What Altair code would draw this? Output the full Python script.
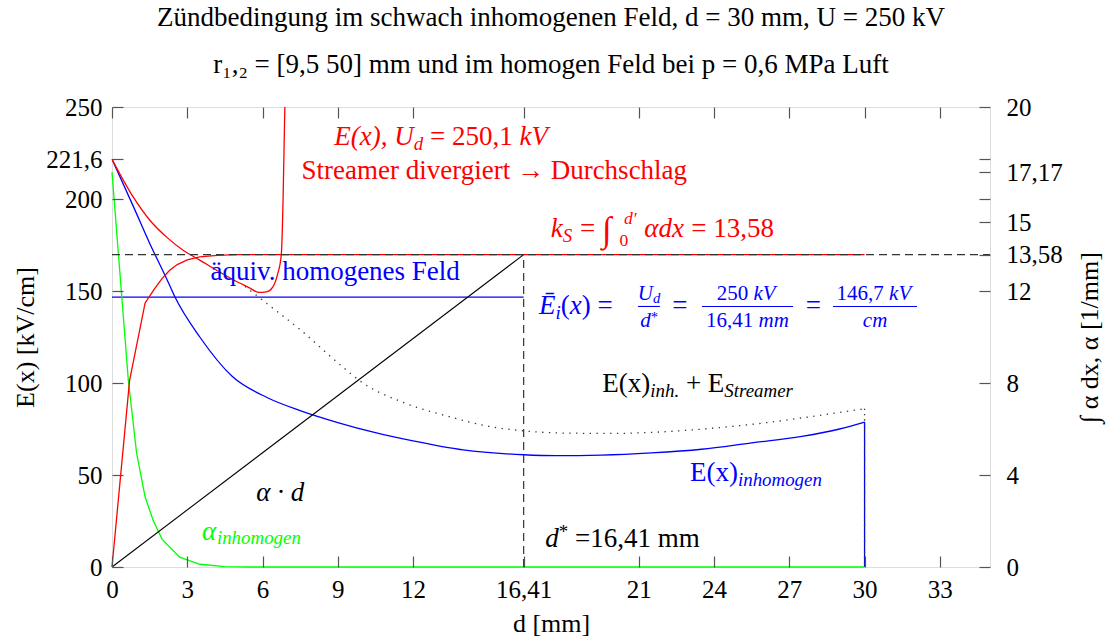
import altair as alt
import pandas as pd

# plot area and axis ranges
W, H = 878, 460
X_MAX, E_MAX, A_MAX = 35, 250, 20
PX_KV = H / E_MAX  # pixels per kV/cm on the left scale

FONT = "Liberation Serif"
RED, BLUE, GREEN, INK = "#ff0000", "#0000ff", "#00ff00", "#000000"

x_ticks = [0, 3, 6, 9, 12, 16.41, 21, 24, 27, 30, 33]
e_ticks = [0, 50, 100, 150, 200, 221.6, 250]
a_ticks = [0, 4, 8, 12, 13.58, 15, 17.17, 20]

# field strength along the gap, inhomogeneous arrangement [kV/cm]
e_inh_x = [0, 0.85, 1.5, 2.2, 2.5, 3.5, 4.8, 6.2, 7.5, 9, 10.5, 12, 14, 16.41, 17.7,
           19.5, 21.5, 23.5, 25.5, 27.5, 29, 30]
e_inh_y = [221.6, 196, 176, 156, 147, 125, 103.5, 92, 85, 78.5, 73, 68.5, 63.6, 61, 60.5,
           60.8, 62, 64, 67.5, 71, 75, 78.8]

# field including streamer space charge at U_d = 250,1 kV (diverges)
e_str_x = [0, 0.85, 1.5, 2.2, 2.85, 3.5, 4.2, 4.85, 5.5, 5.85, 6.15, 6.4, 6.6, 6.75,
           6.82, 6.87, 6.92]
e_str_y = [221.6, 201, 188.6, 179, 172, 166.8, 161, 156, 151.6, 149.2, 149.5, 152, 159,
           170, 200, 236, 270]

# E(x)inh + E_Streamer beyond the divergence point
e_sum_x = [5.3, 6, 7.5, 9, 10, 11.5, 13.5, 15, 16.41, 18, 20, 22, 24, 26, 28, 30]
e_sum_y = [152.5, 145, 129, 111, 100, 90, 81.5, 76.5, 74, 72.8, 72.6, 73.5, 75.5, 78.3,
           82, 86]

# ionisation coefficient alpha [1/mm]
alpha_x = [0, 0.65, 0.98, 1.32, 1.65, 2.0, 2.7, 3.5, 4.5, 5.5, 30]
alpha_y = [17.17, 8.13, 4.96, 3.04, 2.0, 1.2, 0.43, 0.12, 0.02, 0, 0]

# integral of alpha dx
k_x = [0, 0.7, 1.32, 1.7, 2.0, 2.3, 2.6, 3.0, 3.5, 4.2, 5.0, 30]
k_y = [0, 8.1, 11.48, 12.1, 12.55, 12.9, 13.15, 13.35, 13.48, 13.55, 13.58, 13.58]

gap = 30
d_star = 16.41
k_s = 13.58
e_hom = 146.7


def path(xs, ys):
    return pd.DataFrame({"x": xs, "y": ys, "i": range(len(xs))})


COMMA = "replace(toString(datum.value), '.', ',')"
common = dict(tickSize=11, tickColor="#555555", tickWidth=1.2, domain=False, offset=-11,
              labelFont=FONT, labelFontSize=25, labelColor="black",
              labelOverlap=False, grid=False, titleFont=FONT, titleFontSize=26,
              titleFontWeight="normal", titleColor="black", zindex=1)

ax_bottom = alt.Axis(orient="bottom", values=x_ticks, labelExpr=COMMA, labelFlush=False,
                     labelPadding=10, title="d [mm]", titlePadding=8, **common)
ax_top = alt.Axis(orient="top", values=x_ticks, labels=False, title=None, **common)
ax_left = alt.Axis(orient="left", values=e_ticks, labelExpr=COMMA, labelPadding=10,
                   title="E(x) [kV/cm]", titlePadding=7, **common)
# right axis also carries the mirrored left-hand ticks (200 and 221,6) without labels
right_vals = a_ticks + [200 / 12.5, 221.6 / 12.5]
ax_right = alt.Axis(orient="right", values=right_vals, labelPadding=16,
                    labelExpr="abs(datum.value - 16) < 0.01 || abs(datum.value - 17.728) < 0.01"
                              " ? '' : " + COMMA,
                    title="∫ α dx, α [1/mm]", titleAngle=270, titleBaseline="top",
                    titlePadding=14, **common)

x_scale = alt.Scale(domain=[0, X_MAX], nice=False, zero=False)
e_scale = alt.Scale(domain=[0, E_MAX], nice=False, zero=False)
a_scale = alt.Scale(domain=[0, A_MAX], nice=False, zero=False)

XL = alt.X("x:Q", scale=x_scale, axis=ax_bottom)
YL = alt.Y("y:Q", scale=e_scale, axis=ax_left)
XR = alt.X("x:Q", scale=x_scale, axis=ax_top)
YR = alt.Y("y:Q", scale=a_scale, axis=ax_right)


def line(df, xe, ye, color, width=1.3, dash=None, clip=False, smooth=False):
    kw = dict(color=color, strokeWidth=width, clip=clip)
    if dash:
        kw["strokeDash"] = dash
    if smooth:
        kw["interpolate"] = "monotone"
    return alt.Chart(df).mark_line(**kw).encode(x=xe, y=ye, order="i:Q")


# ---- text annotations (segments for sub/superscripts) ----
REG_LC = [444, 500, 444, 500, 444, 333, 500, 500, 278, 278, 500, 278, 778, 500, 500, 500,
          500, 333, 389, 278, 500, 500, 722, 500, 500, 444]
IT_LC = [500, 500, 444, 500, 444, 278, 500, 500, 278, 278, 444, 278, 722, 500, 500, 500,
         500, 389, 389, 278, 500, 444, 667, 444, 444, 389]
UC = [722, 667, 667, 722, 611, 556, 722, 722, 333, 389, 722, 611, 889, 722, 722, 556, 722,
      667, 556, 611, 722, 722, 944, 722, 722, 611]
OTHER = {" ": 250, "(": 333, ")": 333, ",": 250, ".": 250, "=": 564, "+": 564, "*": 500,
         "·": 250, "→": 1000, "∫": 500, "[": 333, "]": 333, "/": 278, "ä": 444, "ü": 500,
         "Ē": 611, "α": 550, "′": 275}


def text_w(s, italic, size):
    total = 0
    for ch in s:
        if "a" <= ch <= "z":
            total += (IT_LC if italic else REG_LC)[ord(ch) - 97]
        elif "A" <= ch <= "Z":
            total += UC[ord(ch) - 65]
        elif ch.isdigit():
            total += 500
        else:
            total += OTHER.get(ch, 500)
    return total / 1000 * size


annotations = [
    (13.18, 229.6, "center", RED, 27,
     [("E(x), U", 1), ("d", 1, .7, 5), (" = 250,1 ", 0), ("kV", 1)]),
    (15.25, 210.9, "center", RED, 27, [("Streamer divergiert → Durchschlag", 0)]),
    (21.94, 179.3, "center", RED, 27,
     [("k", 1), ("S", 1, .7, 5), (" = ", 0), ("∫", 0, 1.3, 4), ("0", 0, .65, 9, False),
      (" d′", 1, .65, -13), (" αdx", 1), (" = 13,58", 0)]),
    (8.93, 156.0, "center", BLUE, 27, [("äquiv. homogenes Feld", 0)]),
    (17.02, 137.5, "left", BLUE, 27,
     [("Ē", 1), ("i", 1, .7, 5), ("(", 0), ("x", 1), (") =", 0)]),
    (21.41, 145.0, "center", BLUE, 21, [("U", 1), ("d", 1, .7, 3)]),
    (21.41, 130.6, "center", BLUE, 21, [("d", 1), ("*", 0, .7, -5)]),
    (22.64, 137.5, "center", BLUE, 27, [("=", 0)]),
    (25.33, 145.0, "center", BLUE, 21, [("250 ", 0), ("kV", 1)]),
    (25.33, 130.6, "center", BLUE, 21, [("16,41 ", 0), ("mm", 1)]),
    (27.96, 137.5, "center", BLUE, 27, [("=", 0)]),
    (30.42, 145.0, "center", BLUE, 21, [("146,7 ", 0), ("kV", 1)]),
    (30.42, 130.6, "center", BLUE, 21, [("cm", 1)]),
    (23.38, 95.1, "center", INK, 27,
     [("E(x)", 0), ("inh.", 1, .7, 5), (" + E", 0), ("Streamer", 1, .7, 5)]),
    (25.67, 46.7, "center", BLUE, 27, [("E(x)", 0), ("inhomogen", 1, .7, 5)]),
    (6.72, 35.9, "center", INK, 27, [("α · d", 1)]),
    (5.56, 14.7, "center", GREEN, 27, [("α", 1), ("inhomogen", 1, .7, 4)]),
    (20.35, 10.9, "center", INK, 27, [("d", 1), ("*", 0, .7, -9), (" =16,41 mm", 0)]),
]

# fraction bars of the mean-field formula (x from, x to, height in kV/cm)
frac_x = [20.97, 23.52, 28.74]
frac_x2 = [21.84, 27.15, 32.09]
frac_y = [141.6, 141.6, 141.6]

PX_MM = W / X_MAX
rows = []
for cx, base, align, color, size, segs in annotations:
    segs = [tuple(s) + (1, 0, True)[len(s) - 2:] for s in segs]
    total = sum(text_w(t, it, size * sc) for t, it, sc, dy, adv in segs if adv)
    cursor = -total / 2 if align == "center" else 0
    for t, it, sc, dy, adv in segs:
        fs = size * sc
        # svg collapses leading/trailing blanks, so they are applied as offsets
        lead = text_w(t[:len(t) - len(t.lstrip())], it, fs)
        rows.append(dict(x=cx + (cursor + lead) / PX_MM, y=base - dy / PX_KV,
                         t=t.strip(), it=it, s=fs, c=color))
        if adv:
            cursor += text_w(t, it, fs)
seg_df = pd.DataFrame(rows)


def texts(italic):
    df = seg_df[seg_df.it == italic]
    return alt.Chart(df).mark_text(
        font=FONT, align="left", baseline="alphabetic",
        fontStyle="italic" if italic else "normal").encode(
        x=XL, y=YL, text="t:N", size=alt.Size("s:Q", scale=None),
        color=alt.Color("c:N", scale=None))


bars = alt.Chart(pd.DataFrame({"x": frac_x, "x2": frac_x2, "y": frac_y})).mark_rule(
    color=BLUE, strokeWidth=1.1).encode(x=XL, x2="x2:Q", y=YL)

left = alt.layer(
    line(path(e_inh_x, e_inh_y), XL, YL, BLUE, smooth=True),
    line(path([gap, gap], [e_inh_y[-1], 0]), XL, YL, BLUE),
    line(path(e_str_x, e_str_y), XL, YL, RED, clip=True, smooth=True),
    line(path(e_sum_x, e_sum_y), XL, YL, "#333333", width=1.3, dash=[1.3, 5.5], smooth=True),
    line(path([gap, gap], [e_sum_y[-1], 0]), XL, YL, "#333333", width=1.3, dash=[1.3, 4]),
    line(path([0, d_star], [e_hom, e_hom]), XL, YL, BLUE),
    texts(0), texts(1), bars,
)

right = alt.layer(
    line(path(alpha_x, alpha_y), XR, YR, GREEN),
    line(path(k_x, k_y), XR, YR, RED),
    line(path([0, d_star], [0, k_s]), XR, YR, INK, width=1.1),
    line(path([0, X_MAX], [k_s, k_s]), XR, YR, "#333333", width=1.2, dash=[8, 5]),
    line(path([d_star, d_star], [0, k_s]), XR, YR, "#333333", width=1.2, dash=[8, 5]),
)

chart = alt.layer(left, right).resolve_scale(y="independent").resolve_axis(
    x="independent").properties(
    width=W, height=H,
    padding={"left": 112, "top": 107, "right": 122, "bottom": 74},
    autosize=alt.AutoSizeParams(type="none"),
    title=alt.TitleParams(
        text=["Zündbedingung im schwach inhomogenen Feld, d = 30 mm, U = 250 kV",
              "r₁,₂ = [9,5 50] mm und im homogen Feld bei p = 0,6 MPa Luft"],
        font=FONT, fontSize=27, fontWeight="normal", color="black", lineHeight=47,
        anchor="middle", offset=16),
).configure_view(stroke="#333333", strokeWidth=1.2).configure(font=FONT)

chart.save("out.html", embed_options={"renderer": "svg", "actions": False})
